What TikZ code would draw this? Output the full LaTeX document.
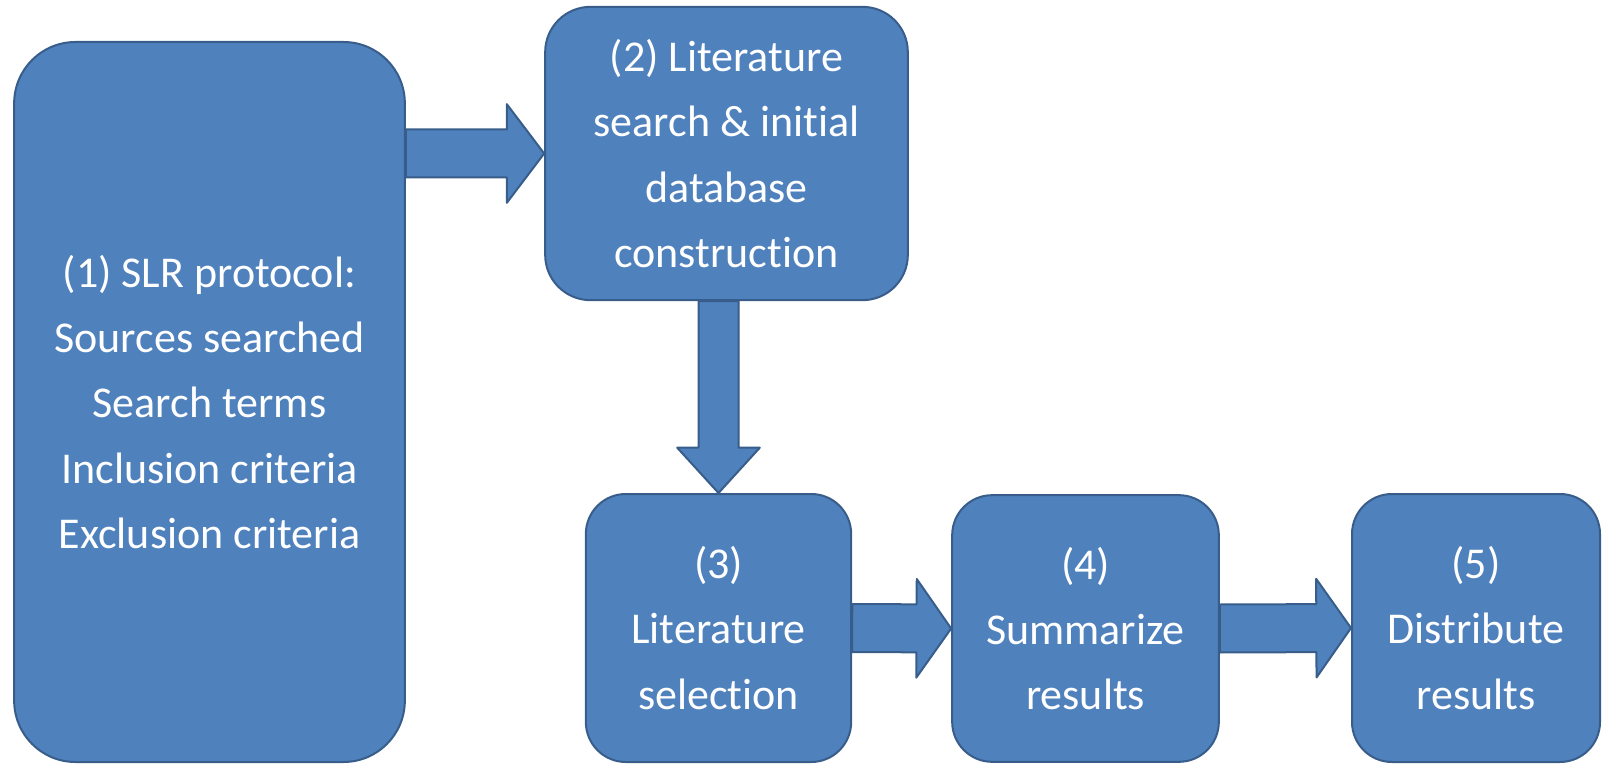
\documentclass[tikz,border=0pt]{standalone}
\usepackage{fontspec}
\setmainfont[Ligatures=NoCommon]{Carlito}
\usetikzlibrary{calc}
\definecolor{boxfill}{HTML}{4F81BD}
\definecolor{boxline}{HTML}{385D8A}

\begin{document}
\begin{tikzpicture}[x=0.75pt,y=0.75pt,yscale=-1,xscale=1,
  stepbox/.style={draw=boxline, fill=boxfill, line width=1.5pt, rounded corners=#1, text=white, align=center, inner sep=0pt, font=\fontsize{33}{49}\selectfont, execute at begin node={\rule{0pt}{40pt}}},
  stepbox/.default=30pt,
  blockarrow/.style={draw=boxline, fill=boxfill, line width=1.5pt, line join=round}]
\useasboundingbox (0,0) rectangle (1617,766);

%Rounded Rect: protocol
\node [stepbox=46pt, minimum width=293pt, minimum height=540pt] (b1) at (209.5,402) {(1) SLR protocol:\\Sources searched\\Search terms\\Inclusion criteria\\Exclusion criteria};
%Rounded Rect: search
\node [stepbox=34pt, minimum width=272pt, minimum height=220pt] (b2) at (726.5,153.5) {(2) Literature\\search \& initial\\database\\construction};
%Rounded Rect: selection
\node [stepbox, minimum width=199pt, minimum height=201pt] (b3) at (718.5,628) {(3)\\Literature\\selection};
%Rounded Rect: summarize
\node [stepbox, minimum width=200pt, minimum height=200pt] (b4) at (1085.5,628.5) {(4)\\Summarize\\results};
%Rounded Rect: distribute
\node [stepbox, minimum width=186pt, minimum height=201pt] (b5) at (1476,628) {(5)\\Distribute\\results};

% Block arrows
\coordinate (a1) at (b1.east |- b2.west);
\coordinate (a2) at (b3.north |- b2.south);
\foreach \from/\to/\w/\h/\l in {a1/b2.west/18pt/37pt/28pt, a2/b3.north/15pt/31pt/34pt, b3.east/b4.west/18pt/37pt/26pt, b4.east/b5.west/18pt/37pt/26pt}{
  \coordinate (c) at ($(\to)!\l!(\from)$);
  \draw [blockarrow] ($(\from)!\w!90:(\to)$) -- ($(c)!\w!90:(\to)$) -- ($(c)!\h!90:(\to)$) -- (\to) -- ($(c)!\h!-90:(\to)$) -- ($(c)!\w!-90:(\to)$) -- ($(\from)!\w!-90:(\to)$) -- cycle;
}

\end{tikzpicture}
\end{document}
